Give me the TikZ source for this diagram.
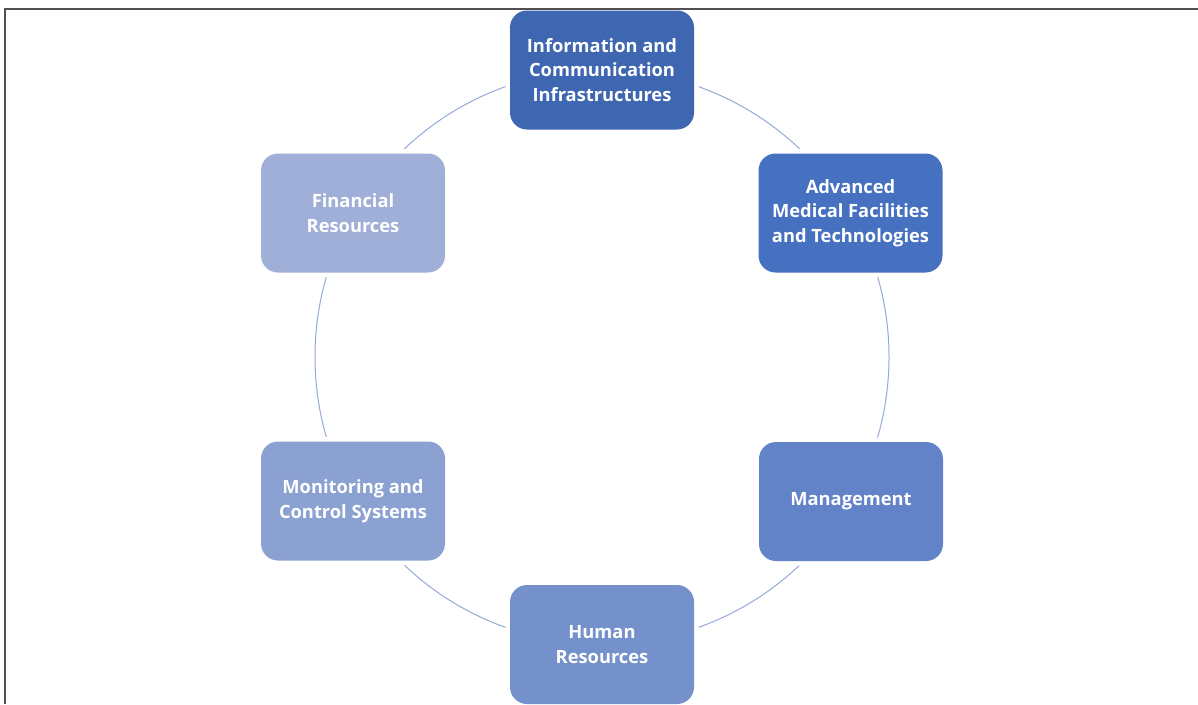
\documentclass[tikz,border=0pt]{standalone}
\usepackage{fontspec}
\setmainfont{Open Sans}
\definecolor{frameg}{HTML}{505050}
\definecolor{ringc}{HTML}{93A9D8}
\definecolor{cA}{HTML}{3E66B1}
\definecolor{cB}{HTML}{4670C0}
\definecolor{cC}{HTML}{6283C8}
\definecolor{cD}{HTML}{7591CB}
\definecolor{cE}{HTML}{8AA1D2}
\definecolor{cF}{HTML}{A0AFD8}
\tikzset{
  cyclebox/.style={rounded corners=17pt, minimum width=184pt, minimum height=119pt,
    inner sep=0pt, align=center, text=white,
    font=\fontsize{18.3}{24.5}\selectfont\bfseries,
    preaction={draw=white, line width=9pt}},
  ring/.style={draw=ringc, line width=1pt}
}
\begin{document}
\begin{tikzpicture}[x=1pt,y=-1pt]
\useasboundingbox (0,0) rectangle (1198,704);
% ring behind the boxes
\coordinate (ctr) at (602,357);
\draw[ring] (ctr) circle[radius=287];
% the six boxes around the ring
\node[cyclebox, fill=cA] (ict) at (602,70) {Information and\\Communication\\Infrastructures};
\node[cyclebox, fill=cB] (adv) at (850.5,213) {Advanced\\Medical Facilities\\and Technologies};
\node[cyclebox, fill=cC] (mgt) at (851,501.5) {Management};
\node[cyclebox, fill=cD] (hum) at (602,644.5) {Human\\Resources};
\node[cyclebox, fill=cE] (mon) at (353,501) {Monitoring and\\Control Systems};
\node[cyclebox, fill=cF] (fin) at (353,213) {Financial\\Resources};
% outer frame (top and left edges)
\draw[frameg, line width=2pt] (5,704) -- (5,8.5) -- (1198,8.5);
\end{tikzpicture}
\end{document}
